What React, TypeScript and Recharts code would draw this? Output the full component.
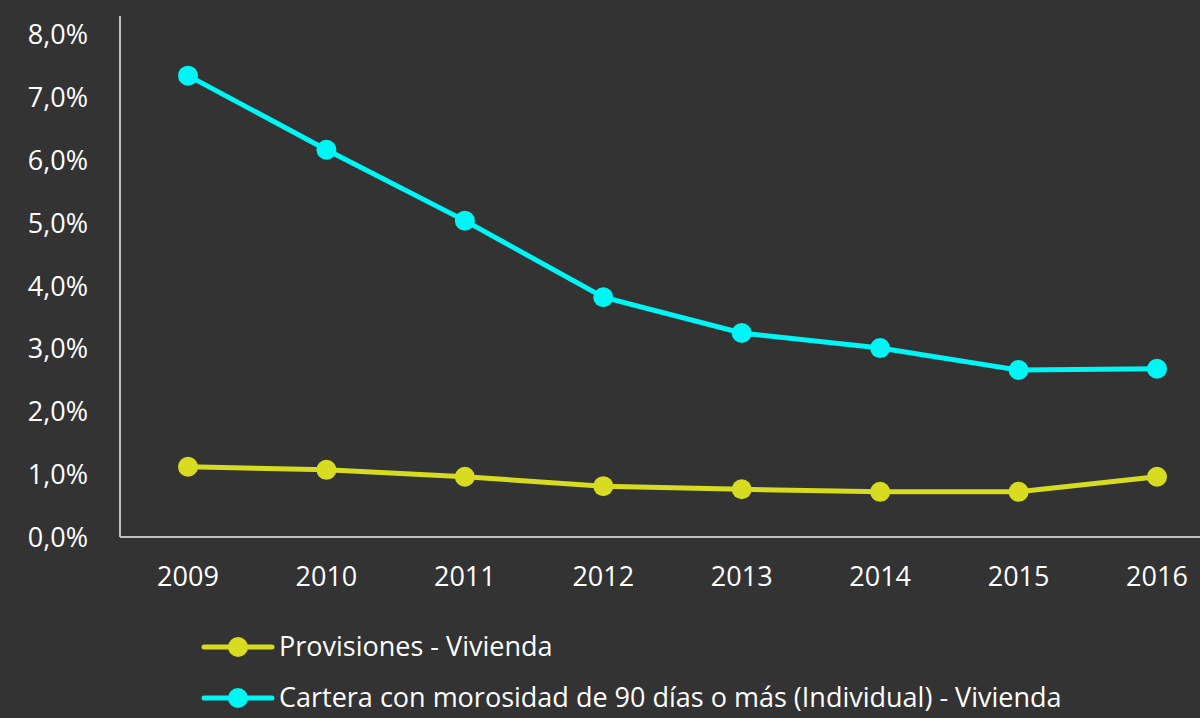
import React from 'react';
import { LineChart, Line, XAxis, YAxis } from 'recharts';

const years = ['2009', '2010', '2011', '2012', '2013', '2014', '2015', '2016'];
const provisiones = [1.12, 1.07, 0.96, 0.81, 0.76, 0.72, 0.72, 0.96];
const cartera = [7.35, 6.17, 5.04, 3.82, 3.25, 3.01, 2.66, 2.68];
const yTicks = [0, 1, 2, 3, 4, 5, 6, 7, 8];

const seriesNames = {
  provisiones: 'Provisiones - Vivienda',
  cartera: 'Cartera con morosidad de 90 días o más (Individual) - Vivienda',
};

const data = years.map((y, i) => ({
  year: y,
  provisiones: provisiones[i],
  cartera: cartera[i],
}));

const FONT = '"Open Sans", Lato, sans-serif';
const YELLOW = '#d7dc21';
const CYAN = '#00f5f5';
const AXIS = '#bfbfbf';

function LegendRows() {
  const items = [
    { name: seriesNames.provisiones, color: YELLOW },
    { name: seriesNames.cartera, color: CYAN },
  ];
  return (
    <svg width={1200} height={98} style={{ position: 'absolute', left: 0, top: 620 }}>
      {items.map((it, i) => {
        const cy = 27 + i * 51;
        return (
          <g key={it.name}>
            <line x1={204} x2={272} y1={cy} y2={cy} stroke={it.color} strokeWidth={5} strokeLinecap="round" />
            <circle cx={238} cy={cy} r={10} fill={it.color} />
            <text x={279} y={cy} dy="0.35em" fill="#ffffff" fontSize={27} fontFamily={FONT}>
              {it.name}
            </text>
          </g>
        );
      })}
    </svg>
  );
}

export default function App() {
  return (
    <div style={{ position: 'absolute', left: 0, top: 0, width: 1200, height: 718, background: '#333333', overflow: 'hidden' }}>
      <LineChart width={1200} height={718} data={data} margin={{ top: 16, right: 0, left: 0, bottom: 111 }}>
        <XAxis
          dataKey="year"
          padding={{ left: 68, right: 43 }}
          axisLine={{ stroke: AXIS, strokeWidth: 2 }}
          tickLine={false}
          tickSize={0}
          tickMargin={30}
          height={70}
          tick={{ fill: '#ffffff', fontSize: 27, fontFamily: FONT }}
        />
        <YAxis
          type="number"
          domain={[0, 8.3]}
          ticks={yTicks}
          width={120}
          axisLine={{ stroke: AXIS, strokeWidth: 2 }}
          tickLine={false}
          tickSize={0}
          tickMargin={32}
          tickFormatter={(v: number) => v.toFixed(1).replace('.', ',') + '%'}
          tick={{ fill: '#ffffff', fontSize: 27, fontFamily: FONT }}
        />
        <Line
          dataKey="provisiones"
          name={seriesNames.provisiones}
          stroke={YELLOW}
          strokeWidth={5}
          dot={{ r: 10, fill: YELLOW, stroke: YELLOW, strokeWidth: 0 }}
          activeDot={false}
          isAnimationActive={false}
        />
        <Line
          dataKey="cartera"
          name={seriesNames.cartera}
          stroke={CYAN}
          strokeWidth={5}
          dot={{ r: 10, fill: CYAN, stroke: CYAN, strokeWidth: 0 }}
          activeDot={false}
          isAnimationActive={false}
        />
      </LineChart>
      <LegendRows />
    </div>
  );
}
